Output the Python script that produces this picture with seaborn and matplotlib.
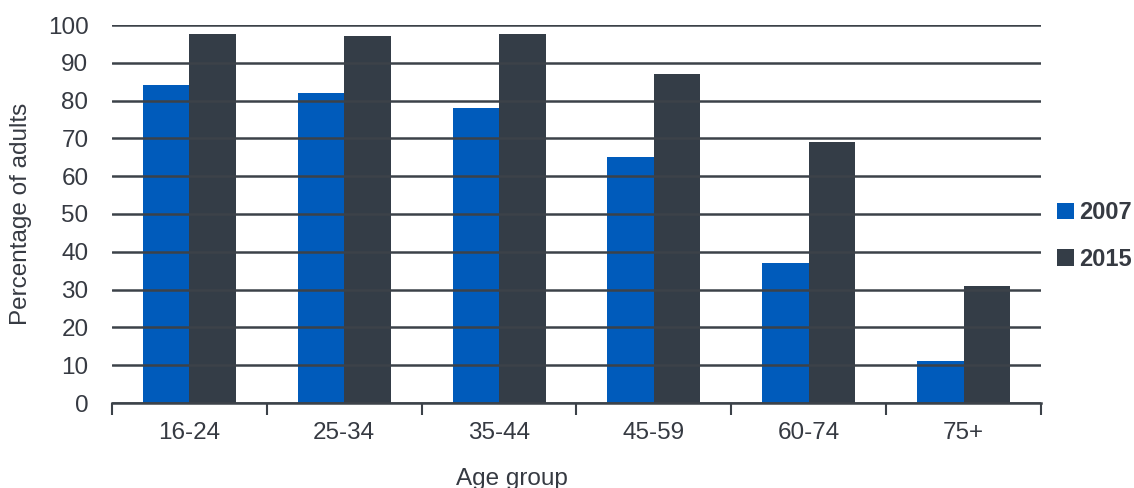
import matplotlib
matplotlib.use("Agg")
import matplotlib.pyplot as plt
import seaborn as sns
import pandas as pd
import numpy as np

age_groups = ["16-24", "25-34", "35-44", "45-59", "60-74", "75+"]
years = ["2007", "2015"]
values_2007 = [84, 82, 78, 65, 37, 11]
values_2015 = [97.5, 97, 97.5, 87, 69, 31]
y_ticks = [0, 10, 20, 30, 40, 50, 60, 70, 80, 90, 100]

df = pd.DataFrame({
    "Age group": age_groups * 2,
    "Year": [years[0]] * len(age_groups) + [years[1]] * len(age_groups),
    "Percentage": values_2007 + values_2015,
})

sns.set_theme(style="white")
plt.rcParams["font.family"] = ["Liberation Sans", "DejaVu Sans"]
text_color = "#363a42"

fig = plt.figure(figsize=(11.34, 4.88), dpi=100)
ax = fig.add_axes([112 / 1134, 1 - 403 / 488, (1041 - 112) / 1134, (403 - 25) / 488])

palette = {"2007": "#005bbb", "2015": "#343d47"}
sns.barplot(data=df, x="Age group", y="Percentage", hue="Year", order=age_groups,
            hue_order=years, palette=palette, width=0.6, linewidth=0, saturation=1,
            ax=ax)

ax.set_ylim(0, 100)
ax.set_xlim(-0.5, len(age_groups) - 0.5)
ax.set_yticks(y_ticks)
ax.yaxis.grid(True, color="#3c4249", linewidth=1.8)
ax.xaxis.grid(False)
ax.set_axisbelow(False)

for s in ["top", "right", "left"]:
    ax.spines[s].set_visible(False)
ax.spines["bottom"].set_color("#3c4249")
ax.spines["bottom"].set_linewidth(1.8)

ax.set_xticks(np.arange(-0.5, len(age_groups), 1.0), minor=True)
ax.tick_params(axis="x", which="minor", length=8.5, width=1.5, color="#3c4249", bottom=True)
ax.tick_params(axis="x", which="major", length=0, pad=14, labelsize=17.5, labelcolor=text_color)
ax.tick_params(axis="y", length=0, pad=17, labelsize=17.5, labelcolor=text_color)

ax.set_ylabel("Percentage of adults", fontsize=17.5, color=text_color, labelpad=11)
ax.set_xlabel("Age group", fontsize=17.5, color=text_color)
ax.xaxis.set_label_coords(0.43, -0.20)
ax.xaxis.label.set_va("center")

leg = ax.get_legend()
if leg is not None:
    leg.remove()
handles, labels = ax.get_legend_handles_labels()
fig.legend(handles, labels, loc="center left", bbox_to_anchor=(1057 / 1134, 1 - 236 / 488),
           frameon=False, borderpad=0, borderaxespad=0,
           handlelength=0.7, handleheight=0.7, handletextpad=0.25,
           labelspacing=1.0, prop={"size": 17, "weight": "bold"}, labelcolor=text_color)

fig.savefig("out.png", dpi=100)
